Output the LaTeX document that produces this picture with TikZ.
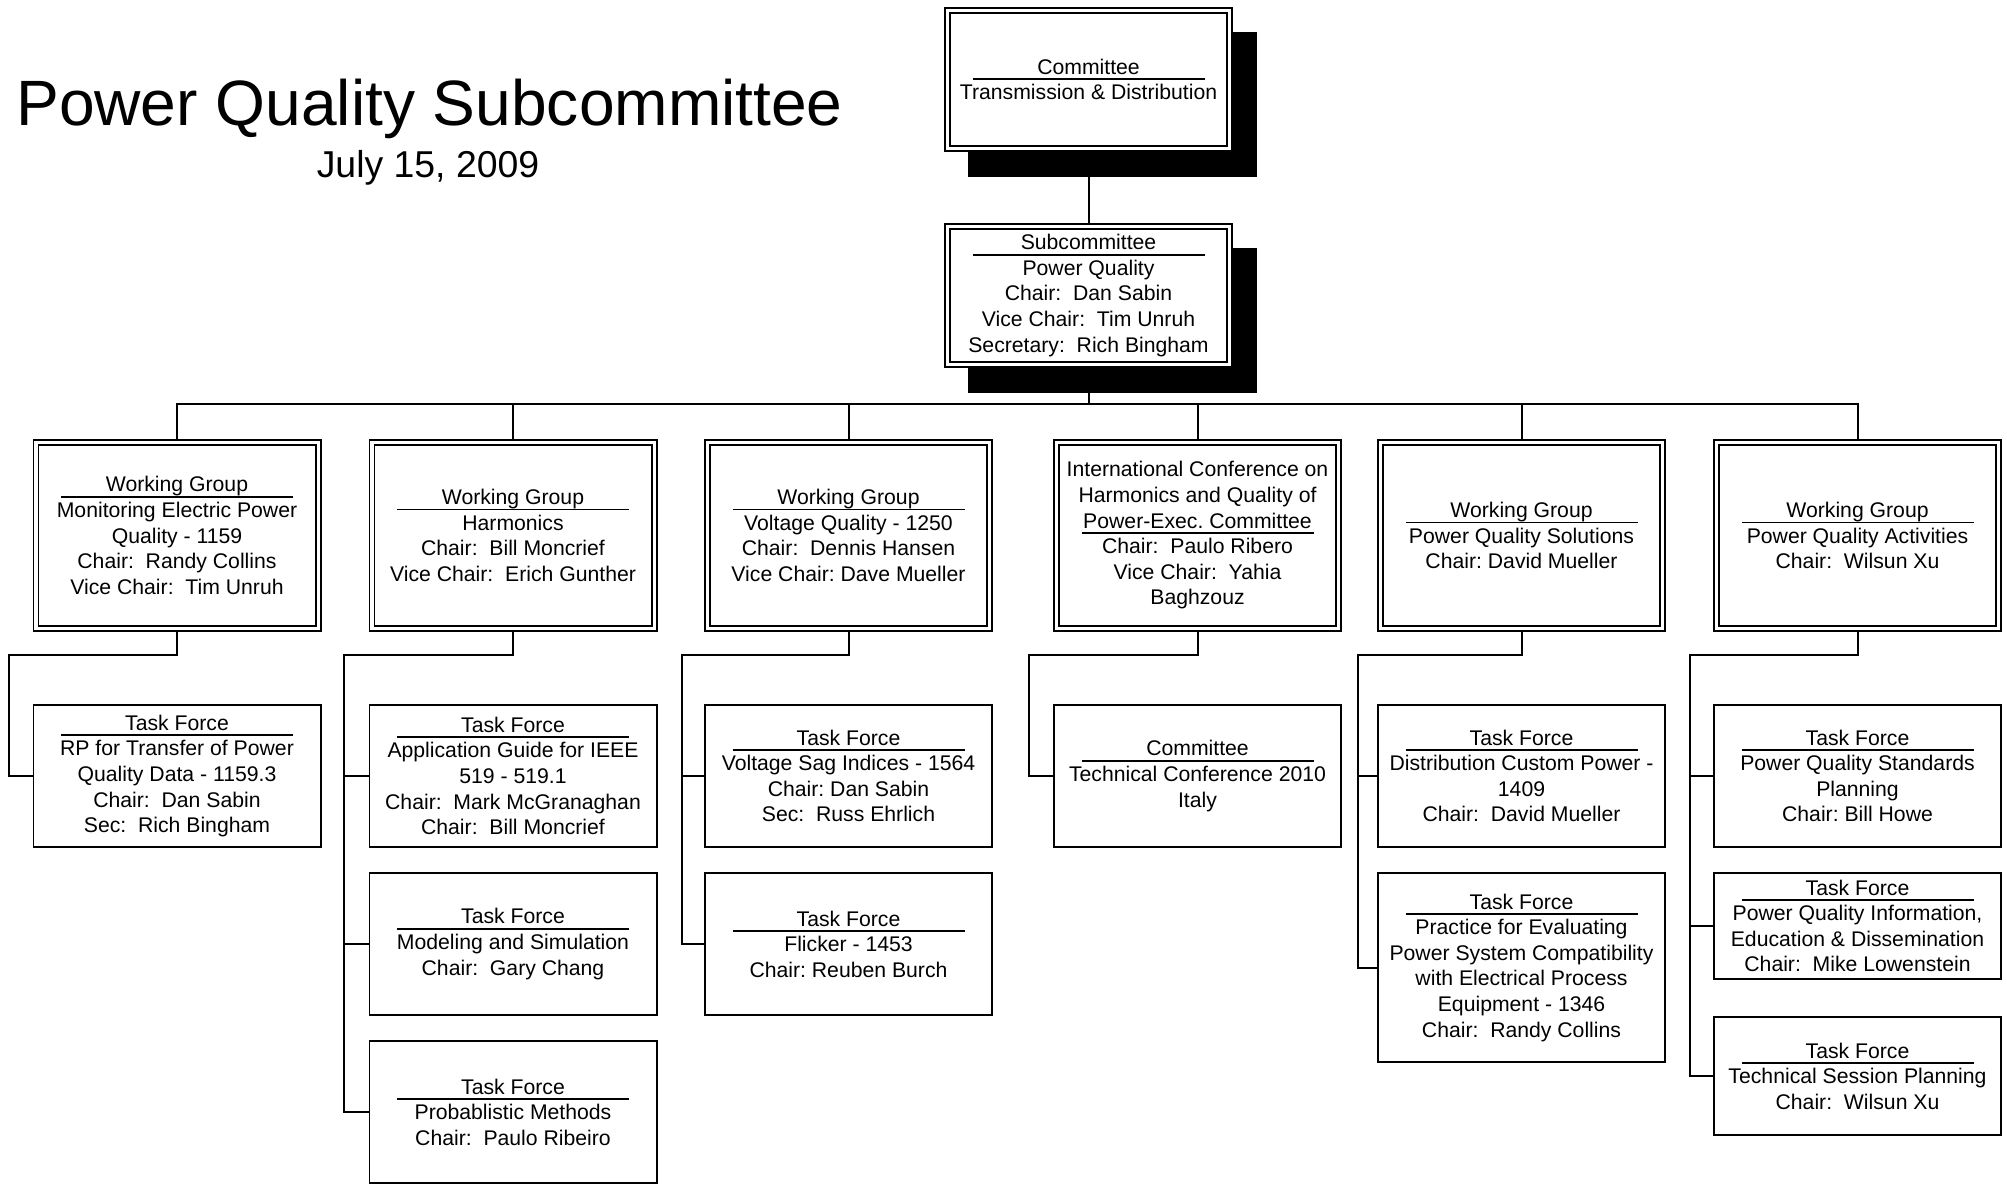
\documentclass[tikz,border=0pt]{standalone}
\usepackage{fontspec}
\setmainfont{Liberation Sans}
\usetikzlibrary{backgrounds}
\newcommand\hdr[1]{\hbox to 116pt{\rlap{\raisebox{-2.9pt}[0pt][0pt]{\rule{116pt}{0.85pt}}}\hfil #1\hfil}}
\begin{document}
\begin{tikzpicture}[x=0.5pt,y=-0.5pt,
    every node/.style={font=\fontsize{10.6}{12.8}\selectfont\frenchspacing, align=center},
    dbox/.style={draw, line width=0.9pt, double, double distance=1.6pt, fill=white,
      minimum width=141.1pt, minimum height=93.1pt, inner sep=0pt, outer sep=1.7pt},
    tbox/.style={draw, line width=0.95pt, fill=white,
      minimum width=143.55pt, minimum height=71.05pt, inner sep=0pt},
    link/.style={line width=1pt}]
  \useasboundingbox (0,0) rectangle (2007,1185);

  \node[anchor=base, font=\fontsize{32.05}{38}\selectfont] (title) at (429.5,125) {Power Quality Subcommittee};
  \node[anchor=base, font=\fontsize{18.7}{22}\selectfont] (date) at (428,177) {July 15, 2009};

  \node[dbox, minimum height=69.1pt] (com) at (1088.5,79.5) {\hdr{Committee}\\Transmission \& Distribution};
  \node[dbox, minimum height=69.1pt] (sub) at (1088.5,295.5) {\hdr{Subcommittee}\\Power Quality\\Chair:~~Dan Sabin\\Vice Chair:~~Tim Unruh\\Secretary:~~Rich Bingham};
  \begin{scope}[on background layer]
    \fill ([shift={(12pt,-12.25pt)}]com.south west) rectangle ([shift={(12pt,-12.25pt)}]com.north east);
    \fill ([shift={(12pt,-12.25pt)}]sub.south west) rectangle ([shift={(12pt,-12.25pt)}]sub.north east);
  \end{scope}

  \node[dbox] (wg1) at (177,535.5) {\hdr{Working Group}\\Monitoring Electric Power\\Quality - 1159\\Chair:~~Randy Collins\\Vice Chair:~~Tim Unruh};
  \node[dbox] (wg2) at (513,535.5) {\hdr{Working Group}\\Harmonics\\Chair:~~Bill Moncrief\\Vice Chair:~~Erich Gunther};
  \node[dbox] (wg3) at (848.5,535.5) {\hdr{Working Group}\\Voltage Quality - 1250\\Chair:~~Dennis Hansen\\Vice Chair: Dave Mueller};
  \node[dbox] (wg4) at (1197.5,535.5) {International Conference on\\Harmonics and Quality of\\\hdr{Power-Exec. Committee}\\Chair:~~Paulo Ribero\\Vice Chair:~~Yahia\\Baghzouz};
  \node[dbox] (wg5) at (1521.5,535.5) {\hdr{Working Group}\\Power Quality Solutions\\Chair: David Mueller};
  \node[dbox] (wg6) at (1857.5,535.5) {\hdr{Working Group}\\Power Quality Activities\\Chair:~~Wilsun Xu};

  \node[tbox] (tf1) at (177,776) {\hdr{Task Force}\\RP for Transfer of Power\\Quality Data - 1159.3\\Chair:~~Dan Sabin\\Sec:~~Rich Bingham};
  \node[tbox] (tf2) at (513,776) {\hdr{Task Force}\\Application Guide for IEEE\\519 - 519.1\\Chair:~~Mark McGranaghan\\Chair:~~Bill Moncrief};
  \node[tbox] (tf2b) at (513,944) {\hdr{Task Force}\\Modeling and Simulation\\Chair:~~Gary Chang};
  \node[tbox] (tf2c) at (513,1112) {\hdr{Task Force}\\Probablistic Methods\\Chair:~~Paulo Ribeiro};
  \node[tbox] (tf3) at (848.5,776) {\hdr{Task Force}\\Voltage Sag Indices - 1564\\Chair: Dan Sabin\\Sec:~~Russ Ehrlich};
  \node[tbox] (tf3b) at (848.5,944) {\hdr{Task Force}\\Flicker - 1453\\Chair: Reuben Burch};
  \node[tbox] (tf4) at (1197.5,776) {\hdr{Committee}\\Technical Conference 2010\\Italy};
  \node[tbox] (tf5) at (1521.5,776) {\hdr{Task Force}\\Distribution Custom Power -\\1409\\Chair:~~David Mueller};
  \node[tbox, minimum height=94.55pt] (tf5b) at (1521.5,967.5) {\hdr{Task Force}\\Practice for Evaluating\\Power System Compatibility\\with Electrical Process\\Equipment - 1346\\Chair:~~Randy Collins};
  \node[tbox] (tf6) at (1857.5,776) {\hdr{Task Force}\\Power Quality Standards\\Planning\\Chair: Bill Howe};
  \node[tbox, minimum height=53.05pt] (tf6b) at (1857.5,926) {\hdr{Task Force}\\Power Quality Information,\\Education \& Dissemination\\Chair:~~Mike Lowenstein};
  \node[tbox, minimum height=59.05pt] (tf6c) at (1857.5,1076) {\hdr{Task Force}\\Technical Session Planning\\Chair:~~Wilsun Xu};

  \draw[link] (com.south) -- (sub.north);
  \foreach \n in {1,...,6}
    \draw[link] (sub.south) -- ++(0,36) -| (wg\n.north);

  \draw[link] (wg1.south) -- ++(0,23) -| ([xshift=-12pt]tf1.west) -- (tf1.west);
  \foreach \t in {tf2,tf2b,tf2c}
    \draw[link] (wg2.south) -- ++(0,23) -| ([xshift=-12.5pt]\t.west) -- (\t.west);
  \foreach \t in {tf3,tf3b}
    \draw[link] (wg3.south) -- ++(0,23) -| ([xshift=-11pt]\t.west) -- (\t.west);
  \draw[link] (wg4.south) -- ++(0,23) -| ([xshift=-12pt]tf4.west) -- (tf4.west);
  \foreach \t in {tf5,tf5b}
    \draw[link] (wg5.south) -- ++(0,23) -| ([xshift=-9.5pt]\t.west) -- (\t.west);
  \foreach \t in {tf6,tf6b,tf6c}
    \draw[link] (wg6.south) -- ++(0,23) -| ([xshift=-11.5pt]\t.west) -- (\t.west);
\end{tikzpicture}
\end{document}
